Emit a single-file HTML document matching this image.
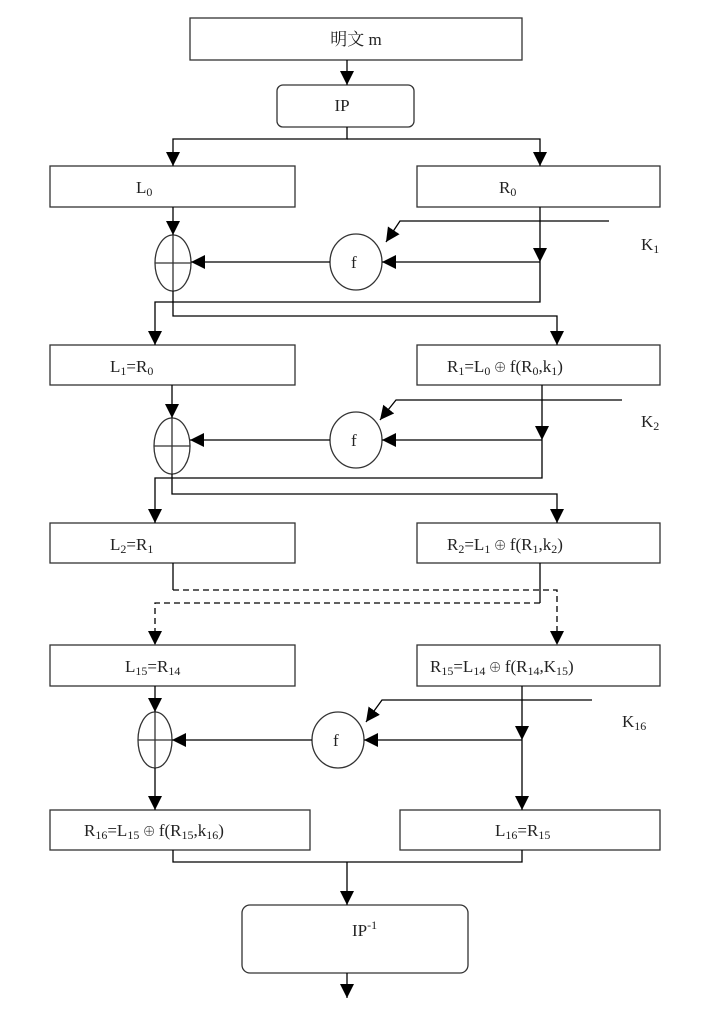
<!DOCTYPE html>
<html><head><meta charset="utf-8"><style>
html,body{margin:0;padding:0;background:#fff;}
svg{display:block;}
text{font-family:"Liberation Serif","Noto Serif CJK SC",serif;font-size:17px;fill:#222;}
</style></head><body>
<svg width="702" height="1010" viewBox="0 0 702 1010" xmlns="http://www.w3.org/2000/svg">
<defs>
<marker id="b" viewBox="0 0 10 10" refX="10" refY="5" markerWidth="14" markerHeight="14" markerUnits="userSpaceOnUse" orient="auto"><path d="M0,0 L10,5 L0,10 z" fill="#000"/></marker>
</defs>
<g fill="none" stroke="#333" stroke-width="1.3">
<rect x="190" y="18" width="332" height="42"/>
<rect x="277" y="85" width="137" height="42" rx="6"/>
<rect x="50" y="166" width="245" height="41"/>
<rect x="417" y="166" width="243" height="41"/>
<rect x="50" y="345" width="245" height="40"/>
<rect x="417" y="345" width="243" height="40"/>
<rect x="50" y="523" width="245" height="40"/>
<rect x="417" y="523" width="243" height="40"/>
<rect x="50" y="645" width="245" height="41"/>
<rect x="417" y="645" width="243" height="41"/>
<rect x="50" y="810" width="260" height="40"/>
<rect x="400" y="810" width="260" height="40"/>
<rect x="242" y="905" width="226" height="68" rx="8"/>
<ellipse cx="356" cy="262" rx="26" ry="28"/>
<ellipse cx="173" cy="263" rx="18" ry="28"/><line x1="155" y1="263" x2="191" y2="263"/><line x1="173" y1="235" x2="173" y2="291"/>
<ellipse cx="356" cy="440" rx="26" ry="28"/>
<ellipse cx="172" cy="446" rx="18" ry="28"/><line x1="154" y1="446" x2="190" y2="446"/><line x1="172" y1="418" x2="172" y2="474"/>
<ellipse cx="338" cy="740" rx="26" ry="28"/>
<ellipse cx="155" cy="740" rx="17" ry="28"/><line x1="138" y1="740" x2="172" y2="740"/><line x1="155" y1="712" x2="155" y2="768"/>
</g>
<g fill="none" stroke="#000" stroke-width="1.3">
<line x1="347" y1="60" x2="347" y2="85" marker-end="url(#b)"/>
<polyline points="347,127 347,139 173,139 173,166" marker-end="url(#b)"/>
<polyline points="347,139 540,139 540,166" marker-end="url(#b)"/>
<line x1="173" y1="207" x2="173" y2="235" marker-end="url(#b)"/>
<polyline points="609,221 400,221 386,242" marker-end="url(#b)"/>
<line x1="540" y1="207" x2="540" y2="262" marker-end="url(#b)"/>
<line x1="540" y1="262" x2="382" y2="262" marker-end="url(#b)"/>
<line x1="330" y1="262" x2="191" y2="262" marker-end="url(#b)"/>
<polyline points="540,262 540,302 155,302 155,345" marker-end="url(#b)"/>
<polyline points="173,291 173,316 557,316 557,345" marker-end="url(#b)"/>
<line x1="172" y1="385" x2="172" y2="418" marker-end="url(#b)"/>
<polyline points="622,400 396,400 380,420" marker-end="url(#b)"/>
<line x1="542" y1="385" x2="542" y2="440" marker-end="url(#b)"/>
<line x1="542" y1="440" x2="382" y2="440" marker-end="url(#b)"/>
<line x1="330" y1="440" x2="190" y2="440" marker-end="url(#b)"/>
<polyline points="542,440 542,478 155,478 155,523" marker-end="url(#b)"/>
<polyline points="172,474 172,494 557,494 557,523" marker-end="url(#b)"/>
<polyline points="173,563 173,590"/>
<polyline points="540,563 540,603"/>
<polyline points="173,590 557,590 557,645" stroke-dasharray="6,4" marker-end="url(#b)"/>
<polyline points="540,603 155,603 155,645" stroke-dasharray="6,4" marker-end="url(#b)"/>
<line x1="155" y1="686" x2="155" y2="712" marker-end="url(#b)"/>
<polyline points="592,700 382,700 366,722" marker-end="url(#b)"/>
<line x1="522" y1="686" x2="522" y2="740" marker-end="url(#b)"/>
<line x1="522" y1="740" x2="364" y2="740" marker-end="url(#b)"/>
<line x1="312" y1="740" x2="172" y2="740" marker-end="url(#b)"/>
<line x1="522" y1="740" x2="522" y2="810" marker-end="url(#b)"/>
<line x1="155" y1="768" x2="155" y2="810" marker-end="url(#b)"/>
<polyline points="173,850 173,862 522,862 522,850"/>
<line x1="347" y1="862" x2="347" y2="905" marker-end="url(#b)"/>
<line x1="347" y1="973" x2="347" y2="998" marker-end="url(#b)"/>
</g>
<g>
<text x="356" y="45" text-anchor="middle">明文 m</text>
<text x="342" y="111" text-anchor="middle">IP</text>
<text x="136" y="193">L<tspan font-size="12" dy="3">0</tspan></text>
<text x="499" y="193">R<tspan font-size="12" dy="3">0</tspan></text>
<text x="351" y="268">f</text>
<text x="641" y="250">K<tspan font-size="12" dy="3">1</tspan></text>
<text x="110" y="372">L<tspan font-size="12" dy="3">1</tspan><tspan dy="-3">=R</tspan><tspan font-size="12" dy="3">0</tspan></text>
<text x="447" y="372">R<tspan font-size="12" dy="3">1</tspan><tspan dy="-3">=L</tspan><tspan font-size="12" dy="3">0</tspan><tspan dy="-3" font-size="13"> ⊕ </tspan><tspan>f(R</tspan><tspan font-size="12" dy="3">0</tspan><tspan dy="-3">,k</tspan><tspan font-size="12" dy="3">1</tspan><tspan dy="-3">)</tspan></text>
<text x="351" y="446">f</text>
<text x="641" y="427">K<tspan font-size="12" dy="3">2</tspan></text>
<text x="110" y="550">L<tspan font-size="12" dy="3">2</tspan><tspan dy="-3">=R</tspan><tspan font-size="12" dy="3">1</tspan></text>
<text x="447" y="550">R<tspan font-size="12" dy="3">2</tspan><tspan dy="-3">=L</tspan><tspan font-size="12" dy="3">1</tspan><tspan dy="-3" font-size="13"> ⊕ </tspan><tspan>f(R</tspan><tspan font-size="12" dy="3">1</tspan><tspan dy="-3">,k</tspan><tspan font-size="12" dy="3">2</tspan><tspan dy="-3">)</tspan></text>
<text x="125" y="672">L<tspan font-size="12" dy="3">15</tspan><tspan dy="-3">=R</tspan><tspan font-size="12" dy="3">14</tspan></text>
<text x="430" y="672">R<tspan font-size="12" dy="3">15</tspan><tspan dy="-3">=L</tspan><tspan font-size="12" dy="3">14</tspan><tspan dy="-3" font-size="13"> ⊕ </tspan><tspan>f(R</tspan><tspan font-size="12" dy="3">14</tspan><tspan dy="-3">,K</tspan><tspan font-size="12" dy="3">15</tspan><tspan dy="-3">)</tspan></text>
<text x="333" y="746">f</text>
<text x="622" y="727">K<tspan font-size="12" dy="3">16</tspan></text>
<text x="84" y="836">R<tspan font-size="12" dy="3">16</tspan><tspan dy="-3">=L</tspan><tspan font-size="12" dy="3">15</tspan><tspan dy="-3" font-size="13"> ⊕ </tspan><tspan>f(R</tspan><tspan font-size="12" dy="3">15</tspan><tspan dy="-3">,k</tspan><tspan font-size="12" dy="3">16</tspan><tspan dy="-3">)</tspan></text>
<text x="495" y="836">L<tspan font-size="12" dy="3">16</tspan><tspan dy="-3">=R</tspan><tspan font-size="12" dy="3">15</tspan></text>
<text x="352" y="936">IP<tspan font-size="12" dy="-7">-1</tspan></text>
</g>
</svg>
</body></html>
